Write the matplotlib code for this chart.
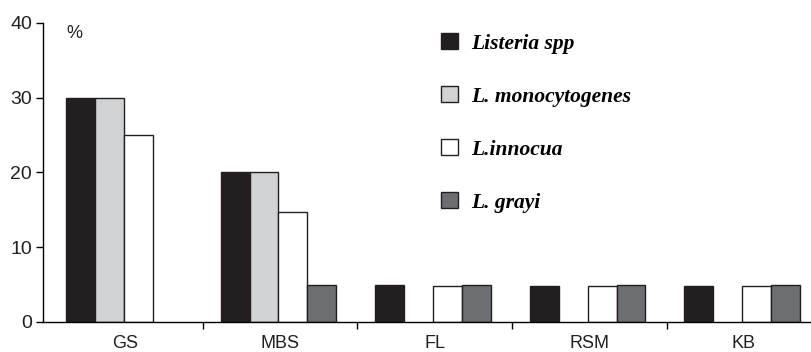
import numpy as np
import matplotlib
matplotlib.use('Agg')
import matplotlib.pyplot as plt
from matplotlib.patches import Patch

# ------------------------
# data
# ------------------------
sites = ['GS', 'MBS', 'FL', 'RSM', 'KB']
species = ['Listeria spp', 'L. monocytogenes', 'L.innocua', 'L. grayi']
listeria_spp = [30, 20, 5, 4.8, 4.8]
l_monocytogenes = [30, 20, 0, 0, 0]
l_innocua = [25, 14.7, 4.8, 4.8, 4.8]
l_grayi = [0, 5, 5, 5, 5]
yticks = [0, 10, 20, 30, 40]

colors = ['#231f20', '#d1d2d4', '#ffffff', '#6d6e71']
series = [listeria_spp, l_monocytogenes, l_innocua, l_grayi]

# ------------------------

plt.rcParams['font.family'] = ['Liberation Sans', 'DejaVu Sans']

fig = plt.figure(figsize=(8.12, 3.52), dpi=100)
ax = fig.add_axes([43.3/812, 30/352, 1 - 43.3/812, 299.3/352])

x = np.arange(len(sites))
w = 0.187
for i, (vals, c) in enumerate(zip(series, colors)):
    pos = x + (i - 1.5)*w - 0.01
    lw = [1.0 if v > 0 else 0 for v in vals]
    ax.bar(pos, vals, width=w, color=c, edgecolor='#231f20', linewidth=lw,
           label=species[i])

ax.set_xlim(-0.531, 4.441)
ax.set_ylim(0, 40)

for s in ['top', 'right']:
    ax.spines[s].set_visible(False)
ax.spines['left'].set_linewidth(1.0)
ax.spines['bottom'].set_linewidth(1.0)

ax.set_yticks(yticks)
ax.set_xticks(x)
ax.set_xticklabels(sites)
ax.set_xticks(np.arange(0.5, len(sites) - 0.5), minor=True)
ax.tick_params(axis='x', which='major', length=0, pad=9, labelsize=13,
               labelcolor='#231f20')
ax.tick_params(axis='x', which='minor', length=5, width=1.0, direction='out')
ax.tick_params(axis='y', length=5, width=1.0, pad=3, labelsize=14,
               labelcolor='#231f20')

ax.text(-0.33, 38.6, '%', fontsize=13, ha='center', va='center',
        color='#231f20')

# legend
handles = [Patch(facecolor=c, edgecolor='#231f20', linewidth=1.0) for c in colors]
leg = fig.legend(handles, species, loc='upper left',
                 bbox_to_anchor=(441/812, 1 - 33/352), frameon=False,
                 prop={'family': 'Liberation Serif', 'style': 'italic',
                       'weight': 'bold', 'size': 15.5},
                 handlelength=0.8, handleheight=0.8, handletextpad=0.6,
                 labelspacing=1.5, borderaxespad=0, borderpad=0)

fig.savefig('out.png', dpi=100)
